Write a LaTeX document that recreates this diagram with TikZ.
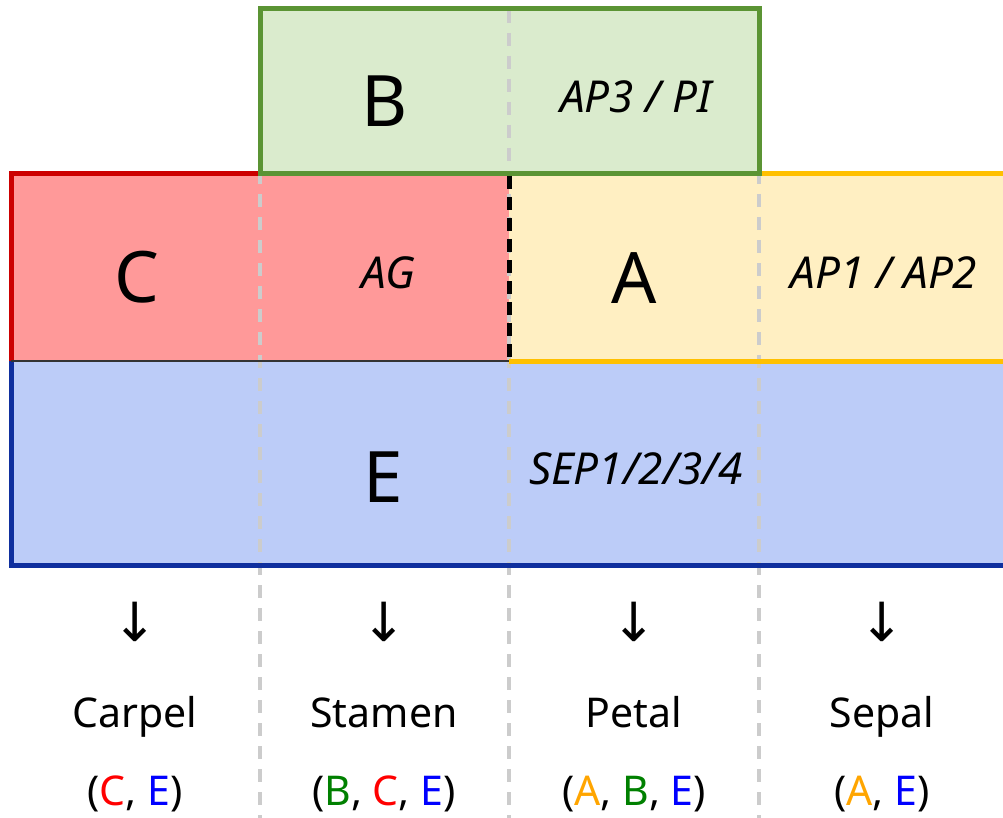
\documentclass[tikz,border=0pt]{standalone}
\usepackage{fontspec}
\setmainfont{Noto Sans}
\newfontfamily\arrowfont{DejaVu Sans}
\definecolor{bfill}{HTML}{DAEBCD}
\definecolor{bline}{HTML}{5B9434}
\definecolor{cfill}{HTML}{FF9999}
\definecolor{cline}{HTML}{CC0000}
\definecolor{afill}{HTML}{FFEFC2}
\definecolor{aline}{HTML}{FFC000}
\definecolor{efill}{HTML}{BCCCF8}
\definecolor{eline}{HTML}{0F2F9E}
\definecolor{guide}{HTML}{CCCCCC}
\definecolor{tred}{HTML}{FF0000}
\definecolor{tblue}{HTML}{0000FF}
\definecolor{tgreen}{HTML}{008000}
\definecolor{torange}{HTML}{FFA500}
\begin{document}
\begin{tikzpicture}[x=1pt,y=-1pt,
  big/.style={font=\fontsize{71}{80}\selectfont, anchor=base, inner sep=0pt},
  gene/.style={font=\fontsize{44}{50}\selectfont\itshape, anchor=base, inner sep=0pt},
  organ/.style={font=\fontsize{41}{48}\selectfont, anchor=base, inner sep=0pt},
  arr/.style={font=\arrowfont\fontsize{54}{60}\selectfont, anchor=base, inner sep=0pt},
  border/.style={line width=5pt},
  guideline/.style={draw=guide, line width=3.5pt, dash pattern=on 13pt off 10pt},
  blackdash/.style={draw=black, line width=5pt, dash pattern=on 13pt off 8pt}]
\useasboundingbox (0,0) rectangle (1003,818);
\clip (0,0) rectangle (1003,818);
% fills
\fill[efill] (11,361) rectangle (1015,565.5);
\fill[cfill] (11,173.5) rectangle (509,361);
\fill[afill] (509,173.5) rectangle (1015,361);
\fill[bfill] (260,8.5) rectangle (759,173.5);
% guide lines
\draw[guideline] (260,10) -- (260,818);
\draw[guideline] (509,10) -- (509,818);
\draw[guideline] (759,10) -- (759,818);
% borders
\draw[eline, border] (11,361) -- (11,565.5) -- (1015,565.5);
\draw[cline, border] (11,361) -- (11,173.5) -- (260,173.5);
\draw[black!80, line width=1.2pt] (11,361) -- (509,361);
\draw[aline, border] (759,173.5) -- (1015,173.5);
\draw[aline, border] (509,361) -- (1015,361);
\draw[bline, border] (260,8.5) rectangle (759,173.5);
\draw[blackdash] (509,176) -- (509,358.5);
% labels in boxes
\node[big] (lb) at (385,127) {B};
\node[gene] (gb) at (636,113) {AP3 / PI};
\node[big] (lc) at (137,302) {C};
\node[gene] (gc) at (388,288) {AG};
\node[big] (la) at (634,303) {A};
\node[gene] (ga) at (884,288) {AP1 / AP2};
\node[big] (le) at (383,502) {E};
\node[gene] (ge) at (636,484) {SEP1/2/3/4};
% arrows
\node[arr] (a1) at (135,641) {↓};
\node[arr] (a2) at (384,641) {↓};
\node[arr] (a3) at (634,641) {↓};
\node[arr] (a4) at (882,641) {↓};
% organs
\node[organ] (o1) at (135,727) {Carpel};
\node[organ] (o2) at (384,727) {Stamen};
\node[organ] (o3) at (634,727) {Petal};
\node[organ] (o4) at (882,727) {Sepal};
\node[organ] (c1) at (135,805) {(\textcolor{tred}{C}, \textcolor{tblue}{E})};
\node[organ] (c2) at (384,805) {(\textcolor{tgreen}{B}, \textcolor{tred}{C}, \textcolor{tblue}{E})};
\node[organ] (c3) at (634,805) {(\textcolor{torange}{A}, \textcolor{tgreen}{B}, \textcolor{tblue}{E})};
\node[organ] (c4) at (882,805) {(\textcolor{torange}{A}, \textcolor{tblue}{E})};
\end{tikzpicture}
\end{document}
